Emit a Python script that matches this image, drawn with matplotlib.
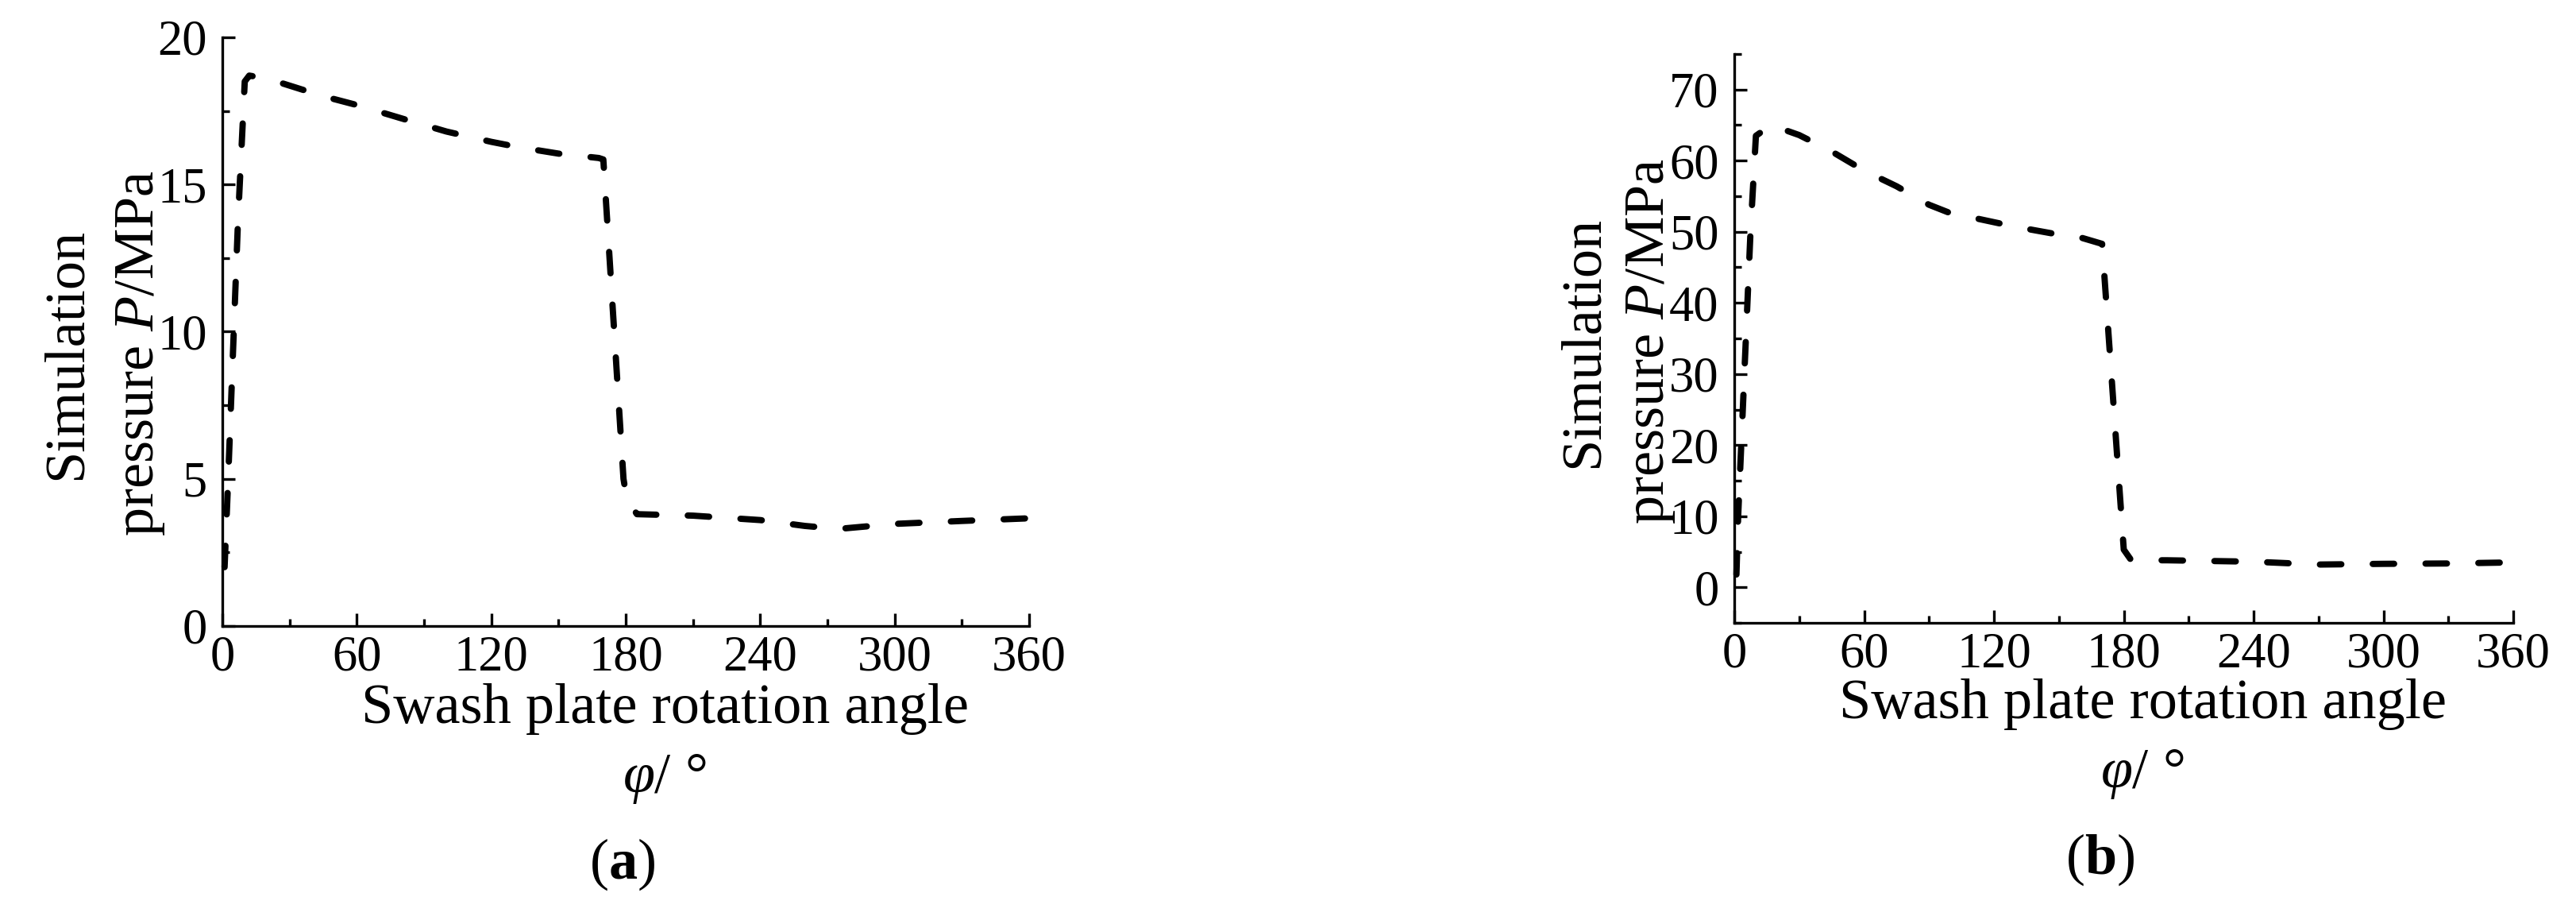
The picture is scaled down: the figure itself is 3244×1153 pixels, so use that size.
import matplotlib
matplotlib.use("Agg")
import matplotlib.pyplot as plt
from matplotlib.ticker import MultipleLocator

plt.rcParams['font.family'] = ['Liberation Serif', 'DejaVu Serif']
plt.rcParams['mathtext.fontset'] = 'custom'
plt.rcParams['mathtext.rm'] = 'Liberation Serif'
plt.rcParams['mathtext.it'] = 'Liberation Serif:italic'
plt.rcParams['mathtext.bf'] = 'Liberation Serif:bold'

# (a) swash plate angle (deg) and simulated pressure (MPa)
angle_a = [1, 2.5, 7, 10, 12, 20, 45, 60, 82, 100, 120, 132, 150, 168,
           170, 179, 180.5, 185, 210, 240, 260, 275, 300, 330, 360]
press_a = [2.0, 4.8, 13.8, 18.5, 18.7, 18.6, 18.0, 17.7, 17.2, 16.8, 16.45, 16.27, 16.05, 15.9,
           15.85, 5.0, 4.3, 3.8, 3.75, 3.6, 3.4, 3.3, 3.47, 3.57, 3.66]

# (b)
angle_b = [1, 1.8, 7.5, 10, 17, 30, 45, 60, 75, 90, 100, 110, 130, 150, 160, 170,
           180, 183, 189, 200, 240, 270, 300, 330, 360]
press_b = [1.8, 10, 50, 63.5, 65, 63.6, 61.3, 58.6, 56.4, 53.8, 52.6, 52.0, 50.7, 49.6, 49.2, 48.3,
           5.3, 4.0, 3.8, 3.8, 3.6, 3.2, 3.3, 3.35, 3.5]

xticks_step = 60
W, H = 3244, 1153


def px(x, y):
    return x / W, 1 - y / H


def style_axes(ax, ylim, ymajor, yminor):
    ax.set_xlim(0, 360)
    ax.set_ylim(*ylim)
    ax.xaxis.set_major_locator(MultipleLocator(xticks_step))
    ax.xaxis.set_minor_locator(MultipleLocator(xticks_step / 2))
    ax.yaxis.set_major_locator(MultipleLocator(ymajor))
    ax.yaxis.set_minor_locator(MultipleLocator(yminor))
    for s in ['top', 'right']:
        ax.spines[s].set_visible(False)
    for s in ['left', 'bottom']:
        ax.spines[s].set_linewidth(2.4)
    ax.tick_params(which='both', direction='in', width=2.4, labelsize=45)
    ax.tick_params(which='major', length=11.5)
    ax.tick_params(which='minor', length=6.5)
    ax.tick_params(axis='y', pad=14)
    ax.tick_params(axis='x', pad=8)


fig = plt.figure(figsize=(W / 100, H / 100), dpi=100)

# panel (a)
ax1 = fig.add_axes([280 / W, 1 - 788 / H, (1296 - 280) / W, (788 - 47) / H])
ax1.plot(angle_a, press_a, color='black', lw=5.7, dashes=(3.4, 5.0),
         dash_capstyle='round', clip_on=False)
style_axes(ax1, (0, 20), 5, 2.5)

# panel (b)
ax2 = fig.add_axes([2184 / W, 1 - 784 / H, (3165 - 2184) / W, (784 - 68) / H])
ax2.plot(angle_b, press_b, color='black', lw=5.7, dashes=(3.4, 5.0),
         dash_capstyle='round', clip_on=False)
style_axes(ax2, (-5, 75), 10, 5)

fs = 52
lab = dict(fontsize=fs, rotation_mode='anchor')
for (x1, x2, yc, xc, yb1, yb2, yc_cap, xcap, tag) in [
        (102, 193, 445, 837, 910, 997, 1088, 784, 'a'),
        (2012, 2095, 430, 2698, 904, 991, 1082, 2645, 'b')]:
    fig.text(*px(x1, yc), 'Simulation', rotation=90, ha='center', va='baseline', **lab)
    fig.text(*px(x2, yc), 'pressure $P$/MPa', rotation=90, ha='center', va='baseline', **lab)
    fig.text(*px(xc, yb1), 'Swash plate rotation angle', ha='center', va='baseline', fontsize=fs)
    fig.text(*px(xc, yb2), r'$\varphi$/ °', ha='center', va='baseline', fontsize=fs)
    fig.text(*px(xcap, yc_cap), '($\\mathbf{' + tag + '}$)', ha='center', va='center', fontsize=fs)

fig.savefig('out.png', dpi=100)
